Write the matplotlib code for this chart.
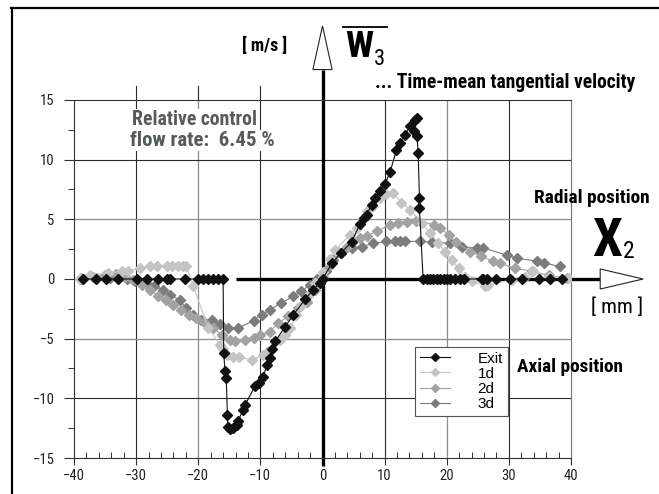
import matplotlib
matplotlib.use('Agg')
import matplotlib.pyplot as plt
from matplotlib import font_manager
from matplotlib.patches import Polygon
from matplotlib.lines import Line2D
from matplotlib.ticker import MultipleLocator

# ---- data (x in mm, w3 in m/s) ----
exit_x = [-38.6, -36.4, -34.8, -32.9, -29.9, -28.2, -26.4, -25.1, -24.6, -22.1, -20.0, -19.2,
          -18.4, -17.6, -16.8, -16.0, -15.9, -15.7, -15.5, -15.3, -15.2, -14.9, -14.4, -13.8,
          -13.6, -12.8, -12.5, -10.9, -10.3, -9.5, -9.0, -8.5, -8.2, -7.6, -6.0, -4.7, -2.8,
          -1.5, -0.4, 0.0, 1.5, 3.0, 4.7, 6.0, 6.6, 7.1, 7.9, 8.5, 9.3, 10.1, 10.9, 11.9, 12.5,
          13.3, 14.1, 14.9, 15.2, 14.8, 15.2, 15.4, 15.6, 15.6, 16.2, 16.8, 17.3, 17.8, 18.4,
          18.9, 19.5, 20.0, 20.5, 21.3, 22.1, 22.7, 25.6, 25.9, 26.4, 28.0, 30.2, 32.1, 34.8,
          36.6, 38.5]
exit_y = [0.0, 0.0, 0.0, 0.0, 0.0, 0.0, 0.0, 0.0, 0.0, 0.0, 0.0, 0.0,
          0.0, 0.0, 0.0, 0.0, -6.2, -7.7, -8.3, -11.4, -12.4, -12.6, -12.5, -12.2,
          -11.9, -11.0, -10.6, -9.0, -8.7, -8.2, -7.2, -6.6, -5.9, -5.2, -4.0, -3.0, -1.7,
          -0.9, -0.3, 0.0, 1.3, 2.2, 3.1, 4.6, 5.1, 5.4, 6.2, 6.8, 7.4, 8.0, 9.0, 10.8, 11.4,
          12.1, 12.8, 13.35, 13.5, 12.4, 12.0, 10.6, 6.8, 5.95, 0.0, 0.0, 0.0, 0.0, 0.0,
          0.0, 0.0, 0.0, 0.0, 0.0, 0.0, 0.0, 0.0, 0.0, 0.0, 0.0, 0.0, 0.0, 0.0,
          0.0, 0.0]

d1_x = [-39.0, -37.4, -34.5, -32.3, -31.3, -29.4, -27.8, -26.7, -25.1, -24.3, -23.2, -22.4,
        -21.9, -20.8, -18.4, -16.5, -16.0, -15.4, -14.4, -13.5, -11.4, -9.5, -9.0, -6.8, -6.0,
        -5.2, -4.2, -3.4, -2.3, -1.2, 0.0, 1.2, 2.0, 4.4, 5.5, 7.1, 8.2, 9.3, 10.3, 11.4, 12.7,
        14.1, 16.0, 17.3, 18.6, 19.7, 20.8, 21.9, 22.9, 24.0, 26.2, 26.7, 30.5, 32.6, 33.9,
        36.4, 39.6]
d1_y = [0.0, 0.35, 0.5, 0.65, 0.65, 0.9, 1.1, 1.1, 1.1, 1.1, 1.1, 1.1,
        1.05, -0.6, -4.1, -5.5, -5.9, -6.4, -6.5, -6.5, -6.8, -6.35, -6.1, -5.1, -4.7,
        -4.1, -3.0, -2.3, -1.45, -0.35, 0.6, 1.7, 2.4, 3.7, 4.3, 5.7, 6.1, 6.8, 7.1, 7.2, 6.4,
        5.8, 4.7, 3.85, 3.0, 2.3, 1.6, 0.9, 0.2, -0.2, -0.55, -0.5, -0.05, 0.2, 0.65,
        0.2, 0.1]

d2_x = [-38.8, -37.0, -35.0, -33.3, -31.8, -30.5, -29.0, -27.8, -26.5, -25.2, -24.0, -22.8,
        -21.5, -20.3, -19.0, -17.6, -16.2, -14.9, -14.1, -12.5, -11.1, -10.1, -8.5, -7.1,
        -5.5, -3.9, -2.5, -1.2, 0.0, 1.2, 2.5, 3.9, 6.0, 7.1, 8.7, 10.9, 12.2, 13.6, 15.0,
        17.9, 18.9, 20.3, 21.5, 23.8, 25.5, 27.5, 28.6, 31.0, 33.7, 36.4, 39.3]
d2_y = [0.1, 0.2, 0.3, 0.45, 0.2, -0.1, -0.5, -0.9, -1.4, -1.8, -2.2, -2.6,
        -3.0, -3.3, -3.6, -4.1, -4.7, -5.1, -5.2, -5.1, -4.95, -4.7, -4.4, -3.7,
        -3.1, -2.45, -1.9, -0.9, 0.2, 1.2, 2.3, 2.7, 3.4, 3.6, 4.0, 4.55, 4.7, 4.8, 4.9,
        4.55, 4.3, 3.7, 3.1, 2.3, 1.9, 1.5, 1.3, 0.9, 0.65, 0.3, 0.1]

d3_x = [-38.8, -36.5, -34.2, -32.6, -31.5, -30.2, -28.3, -27.2, -25.6, -24.6, -22.9, -22.0,
        -20.8, -19.5, -17.8, -16.5, -15.2, -13.6, -11.1, -9.8, -8.5, -6.6, -4.7, -3.4, -2.0,
        -0.9, 0.5, 1.7, 3.0, 4.7, 6.3, 8.2, 10.3, 11.7, 12.5, 13.3, 15.7, 17.6, 20.5, 22.5,
        24.8, 25.9, 29.7, 31.3, 34.5, 35.6, 38.2]
d3_y = [0.0, 0.1, 0.1, 0.2, 0.0, -0.2, -0.4, -0.6, -0.9, -1.3, -1.8, -2.4,
        -3.0, -3.4, -3.4, -3.8, -4.1, -4.1, -3.5, -3.0, -2.6, -2.0, -1.45, -1.0, -0.5,
        0.0, 0.7, 1.6, 2.2, 2.6, 2.7, 3.0, 3.15, 3.15, 3.15, 3.15, 3.15, 3.1, 3.0, 2.7,
        2.6, 2.6, 2.0, 1.75, 1.5, 1.35, 1.05]

labels = ['Exit', '1d', '2d', '3d']
colors = ['#111111', '#c4c4c4', '#a2a2a2', '#7c7c7c']

W, H = 659, 494


def fxy(px, py):
    # pixel position in the picture -> figure fraction
    return px / W, 1 - py / H


names = {f.name for f in font_manager.fontManager.ttflist}
narrow = 'Liberation Sans'
for cand in ['Liberation Sans Narrow', 'Roboto Condensed', 'DejaVu Sans Condensed', 'Roboto']:
    if cand in names:
        narrow = cand
        break

plt.rcParams['font.family'] = ['Liberation Sans', 'DejaVu Sans']

fig = plt.figure(figsize=(W / 100, H / 100), dpi=100)
fig.patch.set_facecolor('white')
renderer = fig.canvas.get_renderer()
ax = fig.add_axes([74 / W, 1 - 458 / H, (571 - 74) / W, (458 - 100) / H])

ax.set_xlim(-40, 40)
ax.set_ylim(-15, 15)

# grid, some lines darker than others like the scan
for xv in [-30, -10, 10, 30]:
    ax.axvline(xv, color='#2a2a2a', lw=0.8, zorder=1)
for xv in [-20, 20]:
    ax.axvline(xv, color='#8c8c8c', lw=0.9, zorder=1)
for yv in [10, -10]:
    ax.axhline(yv, color='#2a2a2a', lw=0.8, zorder=1)
for yv in [5, -5]:
    ax.axhline(yv, color='#8c8c8c', lw=0.9, zorder=1)
for xv in [-30, -20, -10]:
    ax.axvline(xv, ymin=1.0, ymax=(458 - 86) / 358, color='#2a2a2a', lw=0.8, clip_on=False)

for sp in ax.spines.values():
    sp.set_color('#333333')
    sp.set_linewidth(0.8)
ax.spines['right'].set_color('#777777')

ax.xaxis.set_major_locator(MultipleLocator(10))
ax.xaxis.set_minor_locator(MultipleLocator(2))
ax.yaxis.set_major_locator(MultipleLocator(5))
ax.yaxis.set_minor_locator(MultipleLocator(2.5))
ax.tick_params(axis='x', which='major', direction='out', length=5, width=0.8, pad=3,
               color='#333333', labelsize=10.5)
ax.tick_params(axis='x', which='minor', direction='in', length=4, width=0.7, color='#333333')
ax.tick_params(axis='y', which='major', direction='out', length=7, width=0.8, pad=7,
               color='#333333', labelsize=10.5)
ax.tick_params(axis='y', which='minor', direction='out', length=4, width=0.7, color='#333333')
for lab in ax.get_xticklabels() + ax.get_yticklabels():
    lab.set_fontfamily(narrow)
    lab.set_color('#222222')

# thick coordinate axes with open arrow heads
ax.plot([-14, 44.7], [0, 0], color='black', lw=2.4, solid_capstyle='butt', clip_on=False, zorder=2)
ax.plot([0, 0], [-15.7, 17.55], color='black', lw=2.4, solid_capstyle='butt', clip_on=False, zorder=2)
ax.add_patch(Polygon([[44.7, -0.84], [51.6, 0], [44.7, 0.84]], closed=True, facecolor='white',
                     edgecolor='#222222', lw=0.8, clip_on=False, zorder=3))
ax.add_patch(Polygon([[-1.55, 17.55], [0, 21.2], [1.55, 17.55]], closed=True, facecolor='white',
                     edgecolor='#222222', lw=0.8, clip_on=False, zorder=3))

series = [(exit_x, exit_y), (d1_x, d1_y), (d2_x, d2_y), (d3_x, d3_y)]
zs = [7, 6, 5, 4]
for (xs, ys), lab, col, z in zip(series, labels, colors, zs):
    ax.plot(xs, ys, color=col, lw=0.8, marker='D', ms=4.6, mec=col, mfc=col,
            label=lab, zorder=z)

leg = ax.legend(loc='upper left', bbox_to_anchor=fxy(415, 347), bbox_transform=fig.transFigure,
                borderaxespad=0, frameon=True, fancybox=False, framealpha=1, edgecolor='#555555',
                fontsize=11, handlelength=2.0, handletextpad=1.8, labelspacing=0.08,
                borderpad=0.3, markerscale=0.85)
leg.get_frame().set_linewidth(0.8)
leg.set_zorder(10)


def fit(px, py, s, width, size, host=None, **kw):
    # put a text with its left baseline at (px, py), shrunk to the width seen in the reference
    host = host or fig
    t = host.text(px / W, 1 - py / H, s, fontsize=size, transform=fig.transFigure, **kw)
    bb = t.get_window_extent(renderer=renderer)
    if bb.width > width:
        t.set_fontsize(size * width / bb.width)
    return t


bold = dict(weight='bold', family=narrow, color='black')
fit(242, 51, '[ m/s ]', 50, 13, **bold)
tw = fit(345, 57, 'W', 28, 30, **bold)
wbb = tw.get_window_extent(renderer=renderer)
fig.text(wbb.x1 / W + 1 / W, 1 - 65 / H, '3', fontsize=16, family=narrow, color='black')
fig.add_artist(Line2D([343 / W, 387 / W], [1 - 27 / H, 1 - 27 / H], color='black', lw=1.3))
fit(375, 88, '... Time-mean tangential velocity', 260, 15, **bold)
fit(534, 203, 'Radial position', 116, 15, **bold)
tx = fit(592, 256, 'X', 30, 42, **bold)
xbb = tx.get_window_extent(renderer=renderer)
fig.text(xbb.x1 / W + 1 / W, 1 - 258 / H, '2', fontsize=17, family=narrow, color='black')
fit(591, 313, '[ mm ]', 52, 16, family=narrow, color='black')
fit(517, 372, 'Axial position', 106, 15, **bold)
grey = dict(weight='bold', family=narrow, color='#555a5a', zorder=8,
            bbox=dict(facecolor='white', edgecolor='none', pad=1))
fit(132, 125, 'Relative control', 125, 15, host=ax, **grey)
fit(130, 146, 'flow rate:  6.45 %', 147, 15, host=ax, **grey)

# outer frame of the scanned figure
fig.add_artist(Line2D([11.5 / W, 11.5 / W], [0, 1 - 8 / H], color='black', lw=1.6))
fig.add_artist(Line2D([11 / W, 1], [1 - 8 / H, 1 - 8 / H], color='black', lw=1.6))

fig.savefig('out.png', dpi=100, facecolor='white')
